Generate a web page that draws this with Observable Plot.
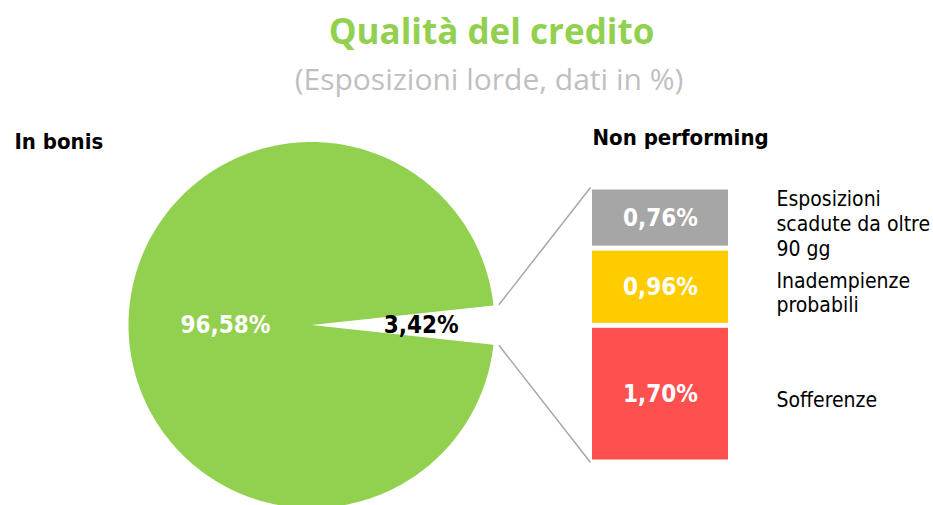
<!DOCTYPE html>
<html>
<head>
<meta charset="utf-8">
<script src="https://cdn.jsdelivr.net/npm/d3@7"></script>
<script src="https://cdn.jsdelivr.net/npm/@observablehq/plot@0.6"></script>
<style>
  html, body { margin: 0; padding: 0; background: #fff; }
  #wrap { width: 933px; height: 505px; overflow: hidden; position: relative; }
  #head { position: relative; height: 100px; }
  #title { position: absolute; left: 50px; right: 0; top: 11px; text-align: center;
    font: bold 35px "Open Sans", sans-serif; color: #92D050; line-height: 40px; }
  #subtitle { position: absolute; left: 45px; right: 0; top: 59px; text-align: center;
    font: 30px "Open Sans", sans-serif; color: #BFBFBF; line-height: 40px; }
</style>
</head>
<body>
<div id="wrap">
  <div id="head">
    <div id="title">Qualità del credito</div>
    <div id="subtitle">(Esposizioni lorde, dati in %)</div>
  </div>
  <div id="chart"></div>
</div>
<script>
// ---- data ----
const pieLabels = ["In bonis", "Non performing"];
const pieValues = [96.58, 3.42];
const nplLabels = ["Sofferenze", "Inadempienze\nprobabili", "Esposizioni\nscadute da oltre\n90 gg"];
const nplValues = [1.70, 0.96, 0.76];
const nplColors = ["#FF5050", "#FFCC00", "#A6A6A6"];

// ---- layout ----
const W = 933, H = 405;
const pxPer = 80.4;          // pixels per percentage point (bar scale)
const basePx = 362;          // pixel row of the bar's zero
const green = "#92D050";
const font = "'DejaVu Sans Condensed', 'DejaVu Sans', sans-serif";
const fmt = v => d3.format(".2f")(v).replace(".", ",") + "%";

const total = d3.sum(nplValues);
const cx = 311 / pxPer, cy = total / 2, r = 183 / pxPer;
const barX0 = 592 / pxPer, barX1 = 728 / pxPer;

// pie slice outline (green slice centred on the left, NPL gap on the right)
const half = (pieValues[1] / 100) * Math.PI;   // half-angle of the NPL slice
const slice = [{x: cx, y: cy}];
const steps = 360;
for (let i = 0; i <= steps; i++) {
  const t = half + (2 * Math.PI - 2 * half) * i / steps;
  slice.push({x: cx + r * Math.cos(t), y: cy + r * Math.sin(t)});
}
slice.push({x: cx, y: cy});

const pieText = pieLabels.map((l, i) => {
  const mid = i === 0 ? Math.PI : 0;
  const rr = i === 0 ? 0.47 * r : 0.6 * r;
  return {label: l, value: pieValues[i], x: cx + rr * Math.cos(mid), y: cy + rr * Math.sin(mid)};
});

// stacked bar data
let acc = 0;
const npl = nplValues.map((v, i) => {
  const d = {label: nplLabels[i], value: v, color: nplColors[i], y1: acc, y2: acc + v, mid: acc + v / 2};
  acc += v;
  return d;
});

// connector lines from the gap edges to the bar corners
const links = [
  {x1: cx + 1.03 * r * Math.cos(half), y1: cy + 1.03 * r * Math.sin(half), x2: barX0 - 2 / pxPer, y2: total},
  {x1: cx + 1.03 * r * Math.cos(half), y1: cy - 1.03 * r * Math.sin(half), x2: barX0 - 2 / pxPer, y2: 0}
];

const plot = Plot.plot({
  width: W, height: H,
  marginTop: 0, marginRight: 0, marginBottom: 0, marginLeft: 0,
  x: {domain: [0, W / pxPer], range: [0, W], axis: null},
  y: {domain: [-(H - basePx) / pxPer, basePx / pxPer], range: [H, 0], axis: null},
  style: {fontFamily: font, background: "#fff", overflow: "visible"},
  marks: [
    Plot.line(slice, {x: "x", y: "y", fill: green, stroke: "none"}),
    Plot.link(links, {x1: "x1", y1: "y1", x2: "x2", y2: "y2", stroke: "#A6A6A6", strokeWidth: 1.5}),
    Plot.rect(npl, {x1: barX0, x2: barX1, y1: "y1", y2: "y2", fill: "color", insetTop: 2.5, insetBottom: 2.5}),
    Plot.text(npl, {x: (barX0 + barX1) / 2, y: "mid", text: d => fmt(d.value), fill: "white",
      fontWeight: "bold", fontSize: 24}),
    Plot.text(npl, {x: barX1, y: "mid", dx: 48, dy: 5, text: "label", textAnchor: "start",
      lineAnchor: "middle", lineHeight: 1.17, fontSize: 21, fill: "#000"}),
    Plot.text(pieText, {x: "x", y: "y", text: d => fmt(d.value),
      fill: (d, i) => i === 0 ? "#fff" : "#000", fontWeight: "bold", fontSize: 24}),
    Plot.text([pieLabels[0]], {frameAnchor: "top-left", dx: 14, dy: 41, text: d => d,
      fontWeight: "bold", fontSize: 22, lineAnchor: "middle", textAnchor: "start", fill: "#000"}),
    Plot.text([pieLabels[1]], {x: barX0, y: total, dy: -50, text: d => d,
      fontWeight: "bold", fontSize: 22, lineAnchor: "middle", textAnchor: "start", fill: "#000"})
  ]
});
document.getElementById("chart").appendChild(plot);
</script>
</body>
</html>
